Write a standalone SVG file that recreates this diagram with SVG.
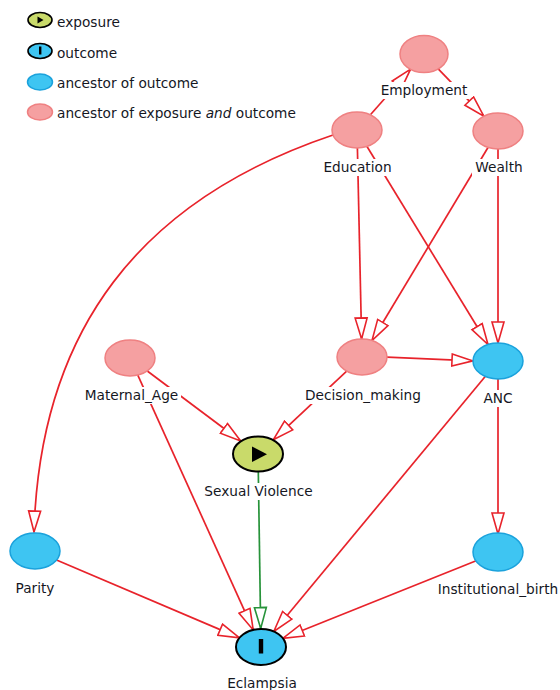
<svg xmlns="http://www.w3.org/2000/svg" width="560" height="690" viewBox="0 0 560 690">
<style>
text{font-family:"DejaVu Sans","Liberation Sans",sans-serif;font-size:13.7px;fill:#15171f}
.lbl{text-anchor:middle}
.bg{fill:#fff}
.e{fill:none;stroke:#e8232b;stroke-width:1.7}
.g{fill:none;stroke:#27933a;stroke-width:1.7}
.anc{fill:#f5a0a1;stroke:#ef8182;stroke-width:1.5}
.out{fill:#3ec5f2;stroke:#1ba2dc;stroke-width:1.5}
.expo{fill:#c9da6a;stroke:#000;stroke-width:2}
.oc{fill:#3ec5f2;stroke:#000;stroke-width:2}
</style>
<defs>
<marker id="ar" markerUnits="userSpaceOnUse" viewBox="-1 -1 23 15" refX="21" refY="6.5" markerWidth="23" markerHeight="15" orient="auto">
<path d="M0,0.5 L21,6.5 L0,12.5 Z" fill="#fff" stroke="#e8232b" stroke-width="1.6"/>
</marker>
<marker id="ag" markerUnits="userSpaceOnUse" viewBox="-1 -1 23 15" refX="21" refY="6.5" markerWidth="23" markerHeight="15" orient="auto">
<path d="M0,0.5 L21,6.5 L0,12.5 Z" fill="#fff" stroke="#27933a" stroke-width="1.6"/>
</marker>
</defs>
<rect width="560" height="690" fill="#fff"/>
<g id="legend">
<ellipse cx="40" cy="20" rx="12" ry="7.5" class="expo" style="stroke-width:1.6"/>
<path d="M37.5,16.5 L37.5,23.5 L43.5,20 Z" fill="#000"/>
<text x="57" y="27">exposure</text>
<ellipse cx="40" cy="51" rx="12" ry="7.5" class="oc" style="stroke-width:1.6"/>
<rect x="39" y="46.5" width="2.4" height="8" fill="#000"/>
<text x="57" y="58">outcome</text>
<ellipse cx="40" cy="82" rx="12.5" ry="8" class="out"/>
<text x="57" y="88">ancestor of outcome</text>
<ellipse cx="40" cy="112" rx="12.5" ry="8" class="anc"/>
<text x="57" y="118">ancestor of exposure <tspan font-style="italic">and</tspan> outcome</text>
</g>
<g id="connectors">
<line class="e" x1="370.4" y1="114.8" x2="410.6" y2="69.2" marker-end="url(#ar)"/>
<line class="e" x1="438.2" y1="68.8" x2="483.8" y2="116.2" marker-end="url(#ar)"/>
<path class="e" d="M333,135 C140,200 40,330 34,532" marker-end="url(#ar)"/>
<line class="e" x1="357.4" y1="148" x2="361.6" y2="339" marker-end="url(#ar)"/>
<line class="e" x1="367" y1="146.5" x2="488" y2="344.5" marker-end="url(#ar)"/>
<line class="e" x1="488" y1="147.5" x2="372" y2="340.5" marker-end="url(#ar)"/>
<line class="e" x1="498" y1="149" x2="498" y2="343" marker-end="url(#ar)"/>
<line class="e" x1="387" y1="357.1" x2="473" y2="360.9" marker-end="url(#ar)"/>
<line class="e" x1="346.7" y1="371.2" x2="273.3" y2="439.8" marker-end="url(#ar)"/>
<line class="e" x1="147.3" y1="371" x2="240.7" y2="441" marker-end="url(#ar)"/>
<line class="e" x1="137.8" y1="375.1" x2="253.2" y2="629.9" marker-end="url(#ar)"/>
<line class="g" x1="258.3" y1="471.5" x2="260.7" y2="628.5" marker-end="url(#ag)"/>
<line class="e" x1="485.2" y1="376.5" x2="273.8" y2="631.5" marker-end="url(#ar)"/>
<line class="e" x1="498" y1="379" x2="498" y2="534" marker-end="url(#ar)"/>
<line class="e" x1="56.5" y1="560" x2="239.5" y2="637.9" marker-end="url(#ar)"/>
<line class="e" x1="476.2" y1="560.8" x2="282.8" y2="638.3" marker-end="url(#ar)"/>
</g>
<g id="Employment">
<ellipse cx="424" cy="54" rx="24" ry="18.5" class="anc"/>
<rect class="bg" x="378" y="82" width="92" height="17"/>
<text class="lbl" x="424" y="95">Employment</text>
</g>
<g id="Education">
<ellipse cx="357" cy="130" rx="25" ry="18" class="anc"/>
<rect class="bg" x="321" y="159" width="73" height="17"/>
<text class="lbl" x="357.5" y="172">Education</text>
</g>
<g id="Wealth">
<ellipse cx="498" cy="131" rx="25" ry="18" class="anc"/>
<rect class="bg" x="472" y="159" width="54" height="17"/>
<text class="lbl" x="499" y="172">Wealth</text>
</g>
<g id="Maternal_Age">
<ellipse cx="130" cy="358" rx="25" ry="18" class="anc"/>
<rect class="bg" x="82" y="387" width="99" height="17"/>
<text class="lbl" x="131.5" y="400">Maternal_Age</text>
</g>
<g id="Decision_making">
<ellipse cx="362" cy="357" rx="25" ry="18" class="anc"/>
<rect class="bg" x="303" y="387" width="120" height="17"/>
<text class="lbl" x="363" y="400">Decision_making</text>
</g>
<g id="ANC">
<ellipse cx="498" cy="361" rx="25" ry="18" class="out"/>
<rect class="bg" x="481" y="390" width="34" height="17"/>
<text class="lbl" x="498" y="403">ANC</text>
</g>
<g id="Sexual_Violence">
<ellipse cx="258" cy="454" rx="25" ry="17.5" class="expo"/>
<path d="M252,446.5 L252,462 L267,454.2 Z" fill="#000"/>
<rect class="bg" x="198" y="483" width="121" height="17"/>
<text class="lbl" x="258.5" y="496">Sexual Violence</text>
</g>
<g id="Parity">
<ellipse cx="35" cy="551" rx="25" ry="18" class="out"/>
<rect class="bg" x="12" y="580" width="46" height="17"/>
<text class="lbl" x="35" y="593">Parity</text>
</g>
<g id="Institutional_birth">
<ellipse cx="498" cy="552" rx="25" ry="19" class="out"/>
<rect class="bg" x="434" y="581" width="126" height="17"/>
<text class="lbl" x="498" y="594">Institutional_birth</text>
</g>
<g id="Eclampsia">
<ellipse cx="261" cy="647" rx="25" ry="18" class="oc"/>
<rect x="258.8" y="639" width="4.4" height="14.5" fill="#000"/>
<rect class="bg" x="226" y="675" width="72" height="15"/>
<text class="lbl" x="262" y="688">Eclampsia</text>
</g>
</svg>
